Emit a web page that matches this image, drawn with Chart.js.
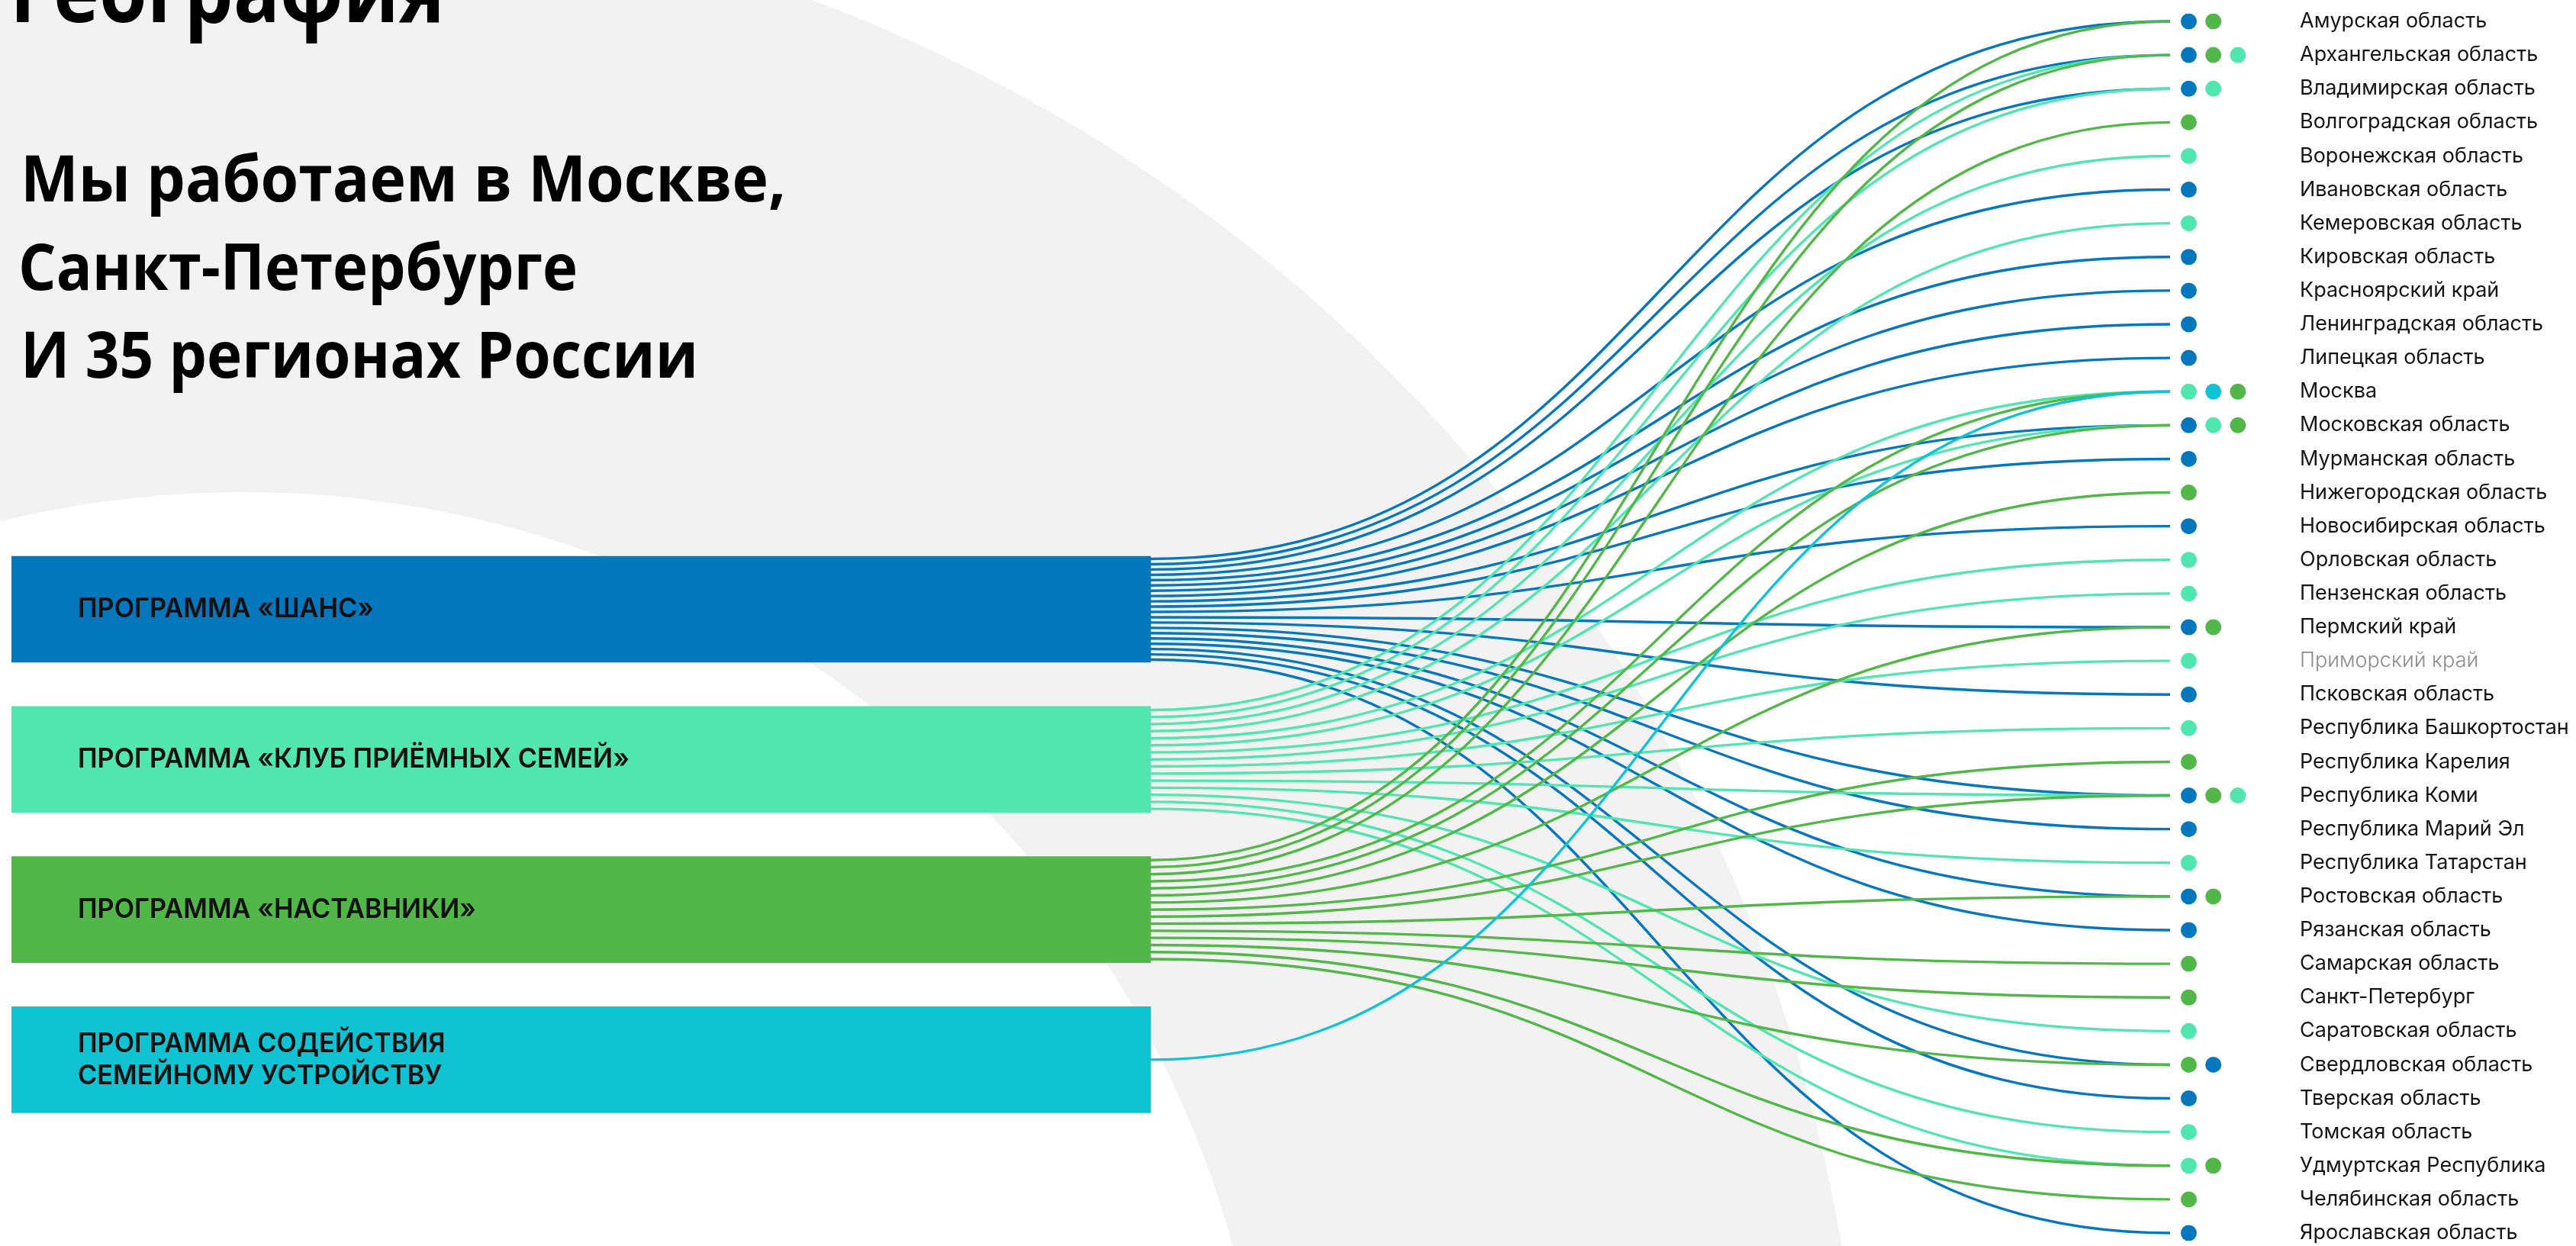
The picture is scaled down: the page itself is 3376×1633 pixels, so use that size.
<!DOCTYPE html>
<html lang="ru">
<head>
<meta charset="utf-8">
<title>География</title>
<script src="https://cdn.jsdelivr.net/npm/chart.js@4.4.1/dist/chart.umd.min.js"></script>
<style>
	html, body { margin: 0; padding: 0; background: #fff; }
	canvas { display: block; }
</style>
</head>
<body>
<canvas id="geo-chart" width="3376" height="1633"></canvas>
<script>
'use strict';

const programs = [
	['ПРОГРАММА «ШАНС»'],
	['ПРОГРАММА «КЛУБ ПРИЁМНЫХ СЕМЕЙ»'],
	['ПРОГРАММА «НАСТАВНИКИ»'],
	['ПРОГРАММА СОДЕЙСТВИЯ', 'СЕМЕЙНОМУ УСТРОЙСТВУ']
];
const programColors = ['#0577bd', '#51e6b0', '#52b749', '#10c3d3'];

const regions = [
	'Амурская область', 'Архангельская область', 'Владимирская область', 'Волгоградская область',
	'Воронежская область', 'Ивановская область', 'Кемеровская область', 'Кировская область',
	'Красноярский край', 'Ленинградская область', 'Липецкая область', 'Москва',
	'Московская область', 'Мурманская область', 'Нижегородская область', 'Новосибирская область',
	'Орловская область', 'Пензенская область', 'Пермский край', 'Приморский край',
	'Псковская область', 'Республика Башкортостан', 'Республика Карелия', 'Республика Коми',
	'Республика Марий Эл', 'Республика Татарстан', 'Ростовская область', 'Рязанская область',
	'Самарская область', 'Санкт-Петербург', 'Саратовская область', 'Свердловская область',
	'Тверская область', 'Томская область', 'Удмуртская Республика', 'Челябинская область',
	'Ярославская область'
];
// programs working in each region (index into programs), in the order the dots are shown
const regionPrograms = [
	[0, 2], [0, 2, 1], [0, 1], [2], [1], [0], [1], [0], [0], [0], [0], [1, 3, 2],
	[0, 1, 2], [0], [2], [0], [1], [1], [0, 2], [1], [0], [1], [2], [0, 2, 1],
	[0], [1], [0, 2], [0], [2], [2], [1], [2, 0], [0], [1], [1, 2], [2], [0]
];
const mutedRegions = ['Приморский край'];

const headline = 'География';
const subtitleLines = ['Мы работаем в Москве,', 'Санкт-Петербурге', 'И 35 регионах России'];

// layout (pixels)
const STAGE_W = 2999;      // width of the plot area
const BAR_END = 1493;      // where program bars end
const LINK_END = 2829;     // where links meet the regions
const DOT_X0 = 2853.5;     // first dot column
const DOT_GAP = 32.2;
const PROG_Y0 = 770.5;     // first program centre from plot top
const PROG_GAP = 196.8;
const PLOT_H = 1588;

const backgroundPlugin = {
	id: 'background',
	beforeDraw(chart){
		const ctx = chart.ctx;
		ctx.save();
		ctx.fillStyle = '#ffffff';
		ctx.fillRect(0, 0, chart.width, chart.height);
		ctx.beginPath();
		ctx.arc(319, 1990, 2125, 0, Math.PI * 2);
		ctx.moveTo(319 + 1345, 1990);
		ctx.arc(319, 1990, 1345, 0, Math.PI * 2);
		ctx.fillStyle = '#f2f2f2';
		ctx.fill('evenodd');

		ctx.fillStyle = '#000';
		ctx.textBaseline = 'alphabetic';
		ctx.font = 'bold 115px "Open Sans"';
		ctx.fillText(headline, 13, 29, 570);
		ctx.font = 'bold 85px "Open Sans"';
		const widths = [1003, 733, 888];
		subtitleLines.forEach((line, i) => {
			ctx.fillText(line, i === 1 ? 24 : 27, 264 + i * 115.5, widths[i]);
		});
		ctx.restore();
	}
};

const linksPlugin = {
	id: 'links',
	beforeDatasetsDraw(chart){
		const {ctx, scales} = chart;
		const bars = chart.getDatasetMeta(0).data;
		const xEnd = scales.x.getPixelForValue(LINK_END);
		ctx.save();
		ctx.lineWidth = 3.4;
		programs.forEach((p, pi) => {
			const targets = regions.map((r, ri) => ri).filter(ri => regionPrograms[ri].includes(pi));
			const bar = bars[pi].getProps(['x', 'y', 'height'], true);
			const top = bar.y - bar.height / 2;
			const xMid = (bar.x + xEnd) / 2;
			ctx.strokeStyle = programColors[pi];
			targets.forEach((ri, k) => {
				const y0 = top + (k + 0.5) / targets.length * bar.height;
				const y1 = scales.y.getPixelForValue(ri);
				ctx.beginPath();
				ctx.moveTo(bar.x, y0);
				ctx.bezierCurveTo(xMid, y0, xMid, y1, xEnd, y1);
				ctx.stroke();
			});
		});
		ctx.restore();
	}
};

const barLabelsPlugin = {
	id: 'barLabels',
	afterDatasetsDraw(chart){
		const ctx = chart.ctx;
		const bars = chart.getDatasetMeta(0).data;
		ctx.save();
		ctx.font = '600 36px Inter';
		ctx.fillStyle = '#111';
		ctx.textBaseline = 'middle';
		const squeeze = 388 / ctx.measureText(programs[0][0]).width;
		bars.forEach((el, i) => {
			const bar = el.getProps(['y', 'base'], true);
			const lines = programs[i];
			lines.forEach((line, j) => {
				ctx.save();
				ctx.translate(bar.base + 87, bar.y + (j - (lines.length - 1) / 2) * 42);
				ctx.scale(squeeze, 1);
				ctx.fillText(line, 0, 0);
				ctx.restore();
			});
		});
		ctx.restore();
	}
};

const dotPoints = [];
regionPrograms.forEach((list, ri) => {
	list.forEach((pi, k) => dotPoints.push({x: k, y: regions[ri], p: pi}));
});

const isMuted = c => mutedRegions.includes(regions[c.index]);
const dotMin = -DOT_X0 / DOT_GAP;
const dotMax = dotMin + STAGE_W / DOT_GAP;
const progMin = -PROG_Y0 / PROG_GAP;
const progMax = progMin + PLOT_H / PROG_GAP;

// keep the hidden linear scales on exactly the range asked for
const exactRange = (min, max, tickValues) => function(scale){
	scale.min = min;
	scale.max = max;
	if(tickValues){
		scale.ticks = tickValues.map(value => ({value}));
	}
};

new Chart(document.getElementById('geo-chart'), {
	type: 'scatter',
	data: {
		datasets: [{
			type: 'bar',
			indexAxis: 'y',
			xAxisID: 'x',
			yAxisID: 'yp',
			data: programs.map((p, i) => ({y: i, x: [0, BAR_END]})),
			backgroundColor: programColors,
			grouped: false,
			barPercentage: 1,
			categoryPercentage: 1,
			maxBarThickness: 139,
			borderWidth: 0
		}, {
			type: 'scatter',
			xAxisID: 'xs',
			yAxisID: 'y',
			data: dotPoints,
			backgroundColor: dotPoints.map(d => programColors[d.p]),
			pointRadius: 10.5,
			borderWidth: 0
		}]
	},
	options: {
		responsive: false,
		animation: false,
		events: [],
		layout: {padding: {left: 15, top: 28, bottom: 17, right: 0}},
		plugins: {legend: {display: false}, tooltip: {enabled: false}},
		scales: {
			x: {type: 'linear', axis: 'x', bounds: 'data', offset: false, min: 0, max: STAGE_W, display: false,
				afterBuildTicks: exactRange(0, STAGE_W)},
			xs: {type: 'linear', axis: 'x', bounds: 'data', offset: false, min: dotMin, max: dotMax, display: false,
				afterBuildTicks: exactRange(dotMin, dotMax)},
			yp: {type: 'linear', axis: 'y', bounds: 'data', offset: false, min: progMin, max: progMax, reverse: true, display: false,
				afterBuildTicks: exactRange(progMin, progMax, programs.map((p, i) => i))},
			y: {
				type: 'category',
				labels: regions,
				position: 'right',
				offset: false,
				grid: {display: false, drawTicks: false},
				border: {display: false},
				ticks: {
					autoSkip: false,
					padding: 0,
					color: c => isMuted(c) ? '#8c8c8c' : '#151515',
					font: c => ({family: 'Inter', size: 27, weight: isMuted(c) ? 300 : 400, lineHeight: 1.1})
				},
				afterFit(scale){
					scale.width = 362;
				}
			}
		}
	},
	plugins: [backgroundPlugin, linksPlugin, barLabelsPlugin]
});
</script>
</body>
</html>
